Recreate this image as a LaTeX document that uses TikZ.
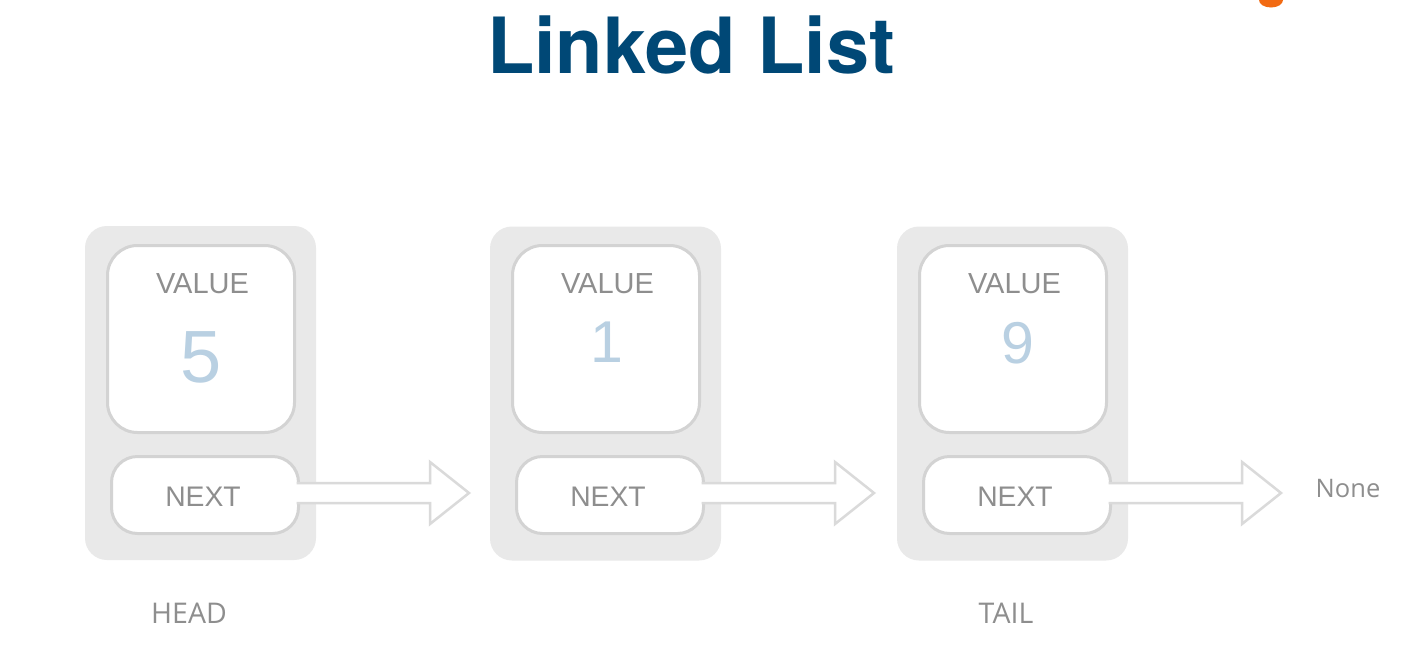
\documentclass[tikz,border=0pt]{standalone}
\usepackage{fontspec}
\setmainfont{Liberation Sans}
\newfontfamily\humanfont{Open Sans}
\newfontfamily\titlefont{TeX Gyre Heros}
\usetikzlibrary{calc}
\pgfdeclarelayer{back}
\pgfdeclarelayer{mid}
\pgfdeclarelayer{front}
\pgfsetlayers{back,mid,main,front}
\definecolor{titleblue}{HTML}{004876}
\definecolor{shell}{HTML}{E9E9E9}
\definecolor{edge}{HTML}{D3D3D3}
\definecolor{arrowedge}{HTML}{DADADA}
\definecolor{labelgrey}{HTML}{8E8E8E}
\definecolor{numblue}{HTML}{B9D0E2}
\definecolor{orangemark}{HTML}{F26A12}
\tikzset{
  x=1pt,y=-1pt,
  shellbox/.style={fill=shell,rounded corners=22,minimum width=231,minimum height=334,inner sep=0,outer sep=0},
  valuebox/.style={draw=edge,fill=white,line width=3,rounded corners=30,minimum width=187,minimum height=187,inner sep=0,outer sep=0},
  nextbox/.style={draw=edge,fill=white,line width=3,rounded corners=26,minimum width=187,minimum height=77,inner sep=0,outer sep=0},
  boxlabel/.style={text=labelgrey,inner sep=0,font=\fontsize{29}{31}\selectfont},
  nextlabel/.style={text=labelgrey,inner sep=0,font=\fontsize{28.3}{31}\selectfont},
  numlabel/.style={text=numblue,inner sep=0},
  sidelabel/.style={text=labelgrey,inner sep=0,font=\humanfont\fontsize{28.5}{30}\selectfont},
  blockarrow/.style={draw=arrowedge,line width=2.5,line join=miter}
}
\newcommand{\blockarrowto}[2]{%
  \begin{pgfonlayer}{front}
  \fill[white] ($(#1.east |- #2)+(-2,-10)$) -- ($(#2)+(-39,-10)$) -- ($(#2)+(-39,-31)$) -- (#2)
    -- ($(#2)+(-39,31)$) -- ($(#2)+(-39,10)$) -- ($(#1.east |- #2)+(-2,10)$) -- cycle;
  \draw[blockarrow] ($(#1.east |- #2)+(-2,-10)$) -- ($(#2)+(-39,-10)$) -- ($(#2)+(-39,-31)$) -- (#2)
    -- ($(#2)+(-39,31)$) -- ($(#2)+(-39,10)$) -- ($(#1.east |- #2)+(-2,10)$);
  \end{pgfonlayer}}
\begin{document}
\begin{tikzpicture}
\useasboundingbox (0,0) rectangle (1409,646);
\node[inner sep=0,text=titleblue,font=\titlefont\bfseries\fontsize{77.5}{80}\selectfont] (title) at (691,45) {Linked List};
\fill[orangemark] (1259,0) arc[start angle=180,end angle=360,x radius=12,y radius=-7.5] -- cycle;

\begin{pgfonlayer}{back}
\fill[white] (0,0) rectangle (1409,646);
\node[shellbox] (s1) at (200.5,393) {};
\node[shellbox] (s2) at (605.5,393.5) {};
\node[shellbox] (s3) at (1012.5,393.5) {};
\end{pgfonlayer}

\node[valuebox] (v1) at (201,339) {};
\node[valuebox] (v2) at (606,339) {};
\node[valuebox] (v3) at (1013,339) {};
\node[nextbox] (n1) at (205,495) {};
\node[nextbox] (n2) at (610,495) {};
\node[nextbox] (n3) at (1017,495) {};

\node[boxlabel] (vl1) at (202.5,284) {VALUE};
\node[boxlabel] (vl2) at (607.5,284) {VALUE};
\node[boxlabel] (vl3) at (1014.5,284) {VALUE};
\node[numlabel,font=\fontsize{74}{80}\selectfont] (d1) at (201,357) {5};
\node[numlabel,font=\fontsize{59}{64}\selectfont] (d2) at (607,342) {1};
\node[numlabel,font=\fontsize{59}{64}\selectfont] (d3) at (1018,343) {9};
\node[nextlabel] (nl1) at (203,497) {NEXT};
\node[nextlabel] (nl2) at (608,497) {NEXT};
\node[nextlabel] (nl3) at (1015,497) {NEXT};

\coordinate (t1) at (469,493);
\coordinate (t2) at (874,493);
\coordinate (t3) at (1281,493);
\blockarrowto{n1}{t1}
\blockarrowto{n2}{t2}
\blockarrowto{n3}{t3}

\node[sidelabel] (head) at (189,613) {HEAD};
\node[sidelabel] (tail) at (1006,613) {TAIL};
\node[sidelabel,font=\humanfont\fontsize{25.5}{30}\selectfont] (none) at (1348,489) {None};
\end{tikzpicture}
\end{document}
